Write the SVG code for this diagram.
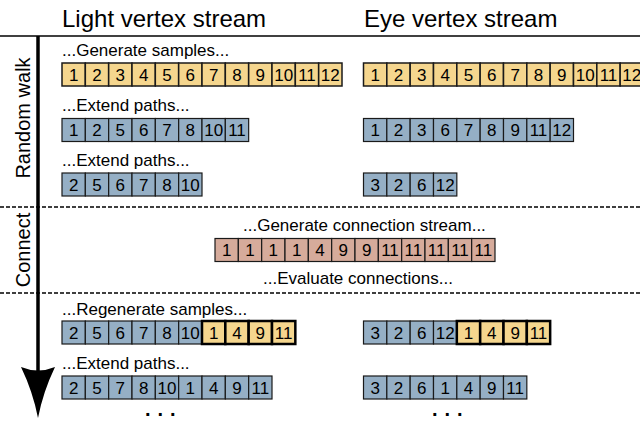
<svg xmlns="http://www.w3.org/2000/svg" width="640" height="421" viewBox="0 0 640 421">
<style>
text{font-family:"Liberation Sans",Arial,sans-serif;fill:#000}
.h{font-size:24px}
.lbl{font-size:17px}
.side{font-size:20px;text-anchor:middle}
.n{font-size:17px;text-anchor:middle}
.y{fill:#F5D68E;stroke:#1a1a1a;stroke-width:1.5}
.yt{fill:#F5D68E;stroke:#000;stroke-width:2.5}
.b{fill:#95AFC5;stroke:#1a1a1a;stroke-width:1.2}
.p{fill:#D6AB9B;stroke:#1a1a1a;stroke-width:1.2}
.dash{stroke:#000;stroke-width:1.5;stroke-dasharray:4 2;fill:none}
.dots{font-size:20px;font-weight:bold;letter-spacing:7px}
</style>
<rect width="640" height="421" fill="#fff"/>
<text class="h" x="62" y="27">Light vertex stream</text>
<text class="h" x="364" y="27">Eye vertex stream</text>
<text class="side" transform="translate(30,118) rotate(-90)">Random walk</text>
<text class="side" transform="translate(30,250) rotate(-90)">Connect</text>
<g id="connectors">
<line x1="0" y1="36" x2="640" y2="36" stroke="#000" stroke-width="1.5"/>
<line class="dash" x1="0" y1="207" x2="640" y2="207"/>
<line class="dash" x1="0" y1="293" x2="640" y2="293"/>
<line x1="38" y1="36" x2="38" y2="372" stroke="#000" stroke-width="3.5"/>
<path d="M21,367 Q38,374 55,367 Q43,392 38,418 Q33,392 21,367 Z" fill="#000"/>
</g>
<text class="lbl" x="62" y="56">...Generate samples...</text>
<text class="lbl" x="62" y="111">...Extend paths...</text>
<text class="lbl" x="62" y="166">...Extend paths...</text>
<text class="lbl" x="243" y="231">...Generate connection stream...</text>
<text class="lbl" x="263" y="284">...Evaluate connections...</text>
<text class="lbl" x="62" y="315">...Regenerate samples...</text>
<text class="lbl" x="62" y="369">...Extend paths...</text>
<g id="light-gen">
<rect class="y" x="62" y="63" width="23.33" height="23"/><text class="n" x="73.67" y="80.5">1</text>
<rect class="y" x="85.33" y="63" width="23.33" height="23"/><text class="n" x="97" y="80.5">2</text>
<rect class="y" x="108.67" y="63" width="23.33" height="23"/><text class="n" x="120.33" y="80.5">3</text>
<rect class="y" x="132" y="63" width="23.33" height="23"/><text class="n" x="143.67" y="80.5">4</text>
<rect class="y" x="155.33" y="63" width="23.33" height="23"/><text class="n" x="167" y="80.5">5</text>
<rect class="y" x="178.67" y="63" width="23.33" height="23"/><text class="n" x="190.33" y="80.5">6</text>
<rect class="y" x="202" y="63" width="23.33" height="23"/><text class="n" x="213.67" y="80.5">7</text>
<rect class="y" x="225.33" y="63" width="23.33" height="23"/><text class="n" x="237" y="80.5">8</text>
<rect class="y" x="248.67" y="63" width="23.33" height="23"/><text class="n" x="260.33" y="80.5">9</text>
<rect class="y" x="272" y="63" width="23.33" height="23"/><text class="n" x="283.67" y="80.5">10</text>
<rect class="y" x="295.33" y="63" width="23.33" height="23"/><text class="n" x="307" y="80.5">11</text>
<rect class="y" x="318.67" y="63" width="23.33" height="23"/><text class="n" x="330.33" y="80.5">12</text>
</g>
<g id="eye-gen">
<rect class="y" x="363.5" y="63" width="23.33" height="23"/><text class="n" x="375.17" y="80.5">1</text>
<rect class="y" x="386.83" y="63" width="23.33" height="23"/><text class="n" x="398.5" y="80.5">2</text>
<rect class="y" x="410.17" y="63" width="23.33" height="23"/><text class="n" x="421.83" y="80.5">3</text>
<rect class="y" x="433.5" y="63" width="23.33" height="23"/><text class="n" x="445.17" y="80.5">4</text>
<rect class="y" x="456.83" y="63" width="23.33" height="23"/><text class="n" x="468.5" y="80.5">5</text>
<rect class="y" x="480.17" y="63" width="23.33" height="23"/><text class="n" x="491.83" y="80.5">6</text>
<rect class="y" x="503.5" y="63" width="23.33" height="23"/><text class="n" x="515.17" y="80.5">7</text>
<rect class="y" x="526.83" y="63" width="23.33" height="23"/><text class="n" x="538.5" y="80.5">8</text>
<rect class="y" x="550.17" y="63" width="23.33" height="23"/><text class="n" x="561.83" y="80.5">9</text>
<rect class="y" x="573.5" y="63" width="23.33" height="23"/><text class="n" x="585.17" y="80.5">10</text>
<rect class="y" x="596.83" y="63" width="23.33" height="23"/><text class="n" x="608.5" y="80.5">11</text>
<rect class="y" x="620.17" y="63" width="23.33" height="23"/><text class="n" x="631.83" y="80.5">12</text>
</g>
<g id="light-ext1">
<rect class="b" x="62" y="118.5" width="23.33" height="23"/><text class="n" x="73.67" y="136">1</text>
<rect class="b" x="85.33" y="118.5" width="23.33" height="23"/><text class="n" x="97" y="136">2</text>
<rect class="b" x="108.67" y="118.5" width="23.33" height="23"/><text class="n" x="120.33" y="136">5</text>
<rect class="b" x="132" y="118.5" width="23.33" height="23"/><text class="n" x="143.67" y="136">6</text>
<rect class="b" x="155.33" y="118.5" width="23.33" height="23"/><text class="n" x="167" y="136">7</text>
<rect class="b" x="178.67" y="118.5" width="23.33" height="23"/><text class="n" x="190.33" y="136">8</text>
<rect class="b" x="202" y="118.5" width="23.33" height="23"/><text class="n" x="213.67" y="136">10</text>
<rect class="b" x="225.33" y="118.5" width="23.33" height="23"/><text class="n" x="237" y="136">11</text>
</g>
<g id="eye-ext1">
<rect class="b" x="363.5" y="118.5" width="23.33" height="23"/><text class="n" x="375.17" y="136">1</text>
<rect class="b" x="386.83" y="118.5" width="23.33" height="23"/><text class="n" x="398.5" y="136">2</text>
<rect class="b" x="410.17" y="118.5" width="23.33" height="23"/><text class="n" x="421.83" y="136">3</text>
<rect class="b" x="433.5" y="118.5" width="23.33" height="23"/><text class="n" x="445.17" y="136">6</text>
<rect class="b" x="456.83" y="118.5" width="23.33" height="23"/><text class="n" x="468.5" y="136">7</text>
<rect class="b" x="480.17" y="118.5" width="23.33" height="23"/><text class="n" x="491.83" y="136">8</text>
<rect class="b" x="503.5" y="118.5" width="23.33" height="23"/><text class="n" x="515.17" y="136">9</text>
<rect class="b" x="526.83" y="118.5" width="23.33" height="23"/><text class="n" x="538.5" y="136">11</text>
<rect class="b" x="550.17" y="118.5" width="23.33" height="23"/><text class="n" x="561.83" y="136">12</text>
</g>
<g id="light-ext2">
<rect class="b" x="62" y="173" width="23.33" height="23"/><text class="n" x="73.67" y="190.5">2</text>
<rect class="b" x="85.33" y="173" width="23.33" height="23"/><text class="n" x="97" y="190.5">5</text>
<rect class="b" x="108.67" y="173" width="23.33" height="23"/><text class="n" x="120.33" y="190.5">6</text>
<rect class="b" x="132" y="173" width="23.33" height="23"/><text class="n" x="143.67" y="190.5">7</text>
<rect class="b" x="155.33" y="173" width="23.33" height="23"/><text class="n" x="167" y="190.5">8</text>
<rect class="b" x="178.67" y="173" width="23.33" height="23"/><text class="n" x="190.33" y="190.5">10</text>
</g>
<g id="eye-ext2">
<rect class="b" x="363.5" y="173" width="23.33" height="23"/><text class="n" x="375.17" y="190.5">3</text>
<rect class="b" x="386.83" y="173" width="23.33" height="23"/><text class="n" x="398.5" y="190.5">2</text>
<rect class="b" x="410.17" y="173" width="23.33" height="23"/><text class="n" x="421.83" y="190.5">6</text>
<rect class="b" x="433.5" y="173" width="23.33" height="23"/><text class="n" x="445.17" y="190.5">12</text>
</g>
<g id="connections">
<rect class="p" x="215" y="238.5" width="23.33" height="23"/><text class="n" x="226.67" y="256">1</text>
<rect class="p" x="238.33" y="238.5" width="23.33" height="23"/><text class="n" x="250" y="256">1</text>
<rect class="p" x="261.67" y="238.5" width="23.33" height="23"/><text class="n" x="273.33" y="256">1</text>
<rect class="p" x="285" y="238.5" width="23.33" height="23"/><text class="n" x="296.67" y="256">1</text>
<rect class="p" x="308.33" y="238.5" width="23.33" height="23"/><text class="n" x="320" y="256">4</text>
<rect class="p" x="331.67" y="238.5" width="23.33" height="23"/><text class="n" x="343.33" y="256">9</text>
<rect class="p" x="355" y="238.5" width="23.33" height="23"/><text class="n" x="366.67" y="256">9</text>
<rect class="p" x="378.33" y="238.5" width="23.33" height="23"/><text class="n" x="390" y="256">11</text>
<rect class="p" x="401.67" y="238.5" width="23.33" height="23"/><text class="n" x="413.33" y="256">11</text>
<rect class="p" x="425" y="238.5" width="23.33" height="23"/><text class="n" x="436.67" y="256">11</text>
<rect class="p" x="448.33" y="238.5" width="23.33" height="23"/><text class="n" x="460" y="256">11</text>
<rect class="p" x="471.67" y="238.5" width="23.33" height="23"/><text class="n" x="483.33" y="256">11</text>
</g>
<g id="light-regen">
<rect class="b" x="62" y="321" width="23.33" height="23"/><text class="n" x="73.67" y="338.5">2</text>
<rect class="b" x="85.33" y="321" width="23.33" height="23"/><text class="n" x="97" y="338.5">5</text>
<rect class="b" x="108.67" y="321" width="23.33" height="23"/><text class="n" x="120.33" y="338.5">6</text>
<rect class="b" x="132" y="321" width="23.33" height="23"/><text class="n" x="143.67" y="338.5">7</text>
<rect class="b" x="155.33" y="321" width="23.33" height="23"/><text class="n" x="167" y="338.5">8</text>
<rect class="b" x="178.67" y="321" width="23.33" height="23"/><text class="n" x="190.33" y="338.5">10</text>
<rect class="yt" x="202" y="321" width="23.33" height="23"/><text class="n" x="213.67" y="338.5">1</text>
<rect class="yt" x="225.33" y="321" width="23.33" height="23"/><text class="n" x="237" y="338.5">4</text>
<rect class="yt" x="248.67" y="321" width="23.33" height="23"/><text class="n" x="260.33" y="338.5">9</text>
<rect class="yt" x="272" y="321" width="23.33" height="23"/><text class="n" x="283.67" y="338.5">11</text>
</g>
<g id="eye-regen">
<rect class="b" x="363.5" y="321" width="23.33" height="23"/><text class="n" x="375.17" y="338.5">3</text>
<rect class="b" x="386.83" y="321" width="23.33" height="23"/><text class="n" x="398.5" y="338.5">2</text>
<rect class="b" x="410.17" y="321" width="23.33" height="23"/><text class="n" x="421.83" y="338.5">6</text>
<rect class="b" x="433.5" y="321" width="23.33" height="23"/><text class="n" x="445.17" y="338.5">12</text>
<rect class="yt" x="456.83" y="321" width="23.33" height="23"/><text class="n" x="468.5" y="338.5">1</text>
<rect class="yt" x="480.17" y="321" width="23.33" height="23"/><text class="n" x="491.83" y="338.5">4</text>
<rect class="yt" x="503.5" y="321" width="23.33" height="23"/><text class="n" x="515.17" y="338.5">9</text>
<rect class="yt" x="526.83" y="321" width="23.33" height="23"/><text class="n" x="538.5" y="338.5">11</text>
</g>
<g id="light-ext3">
<rect class="b" x="62" y="376" width="23.33" height="23"/><text class="n" x="73.67" y="393.5">2</text>
<rect class="b" x="85.33" y="376" width="23.33" height="23"/><text class="n" x="97" y="393.5">5</text>
<rect class="b" x="108.67" y="376" width="23.33" height="23"/><text class="n" x="120.33" y="393.5">7</text>
<rect class="b" x="132" y="376" width="23.33" height="23"/><text class="n" x="143.67" y="393.5">8</text>
<rect class="b" x="155.33" y="376" width="23.33" height="23"/><text class="n" x="167" y="393.5">10</text>
<rect class="b" x="178.67" y="376" width="23.33" height="23"/><text class="n" x="190.33" y="393.5">1</text>
<rect class="b" x="202" y="376" width="23.33" height="23"/><text class="n" x="213.67" y="393.5">4</text>
<rect class="b" x="225.33" y="376" width="23.33" height="23"/><text class="n" x="237" y="393.5">9</text>
<rect class="b" x="248.67" y="376" width="23.33" height="23"/><text class="n" x="260.33" y="393.5">11</text>
</g>
<g id="eye-ext3">
<rect class="b" x="363.5" y="376" width="23.33" height="23"/><text class="n" x="375.17" y="393.5">3</text>
<rect class="b" x="386.83" y="376" width="23.33" height="23"/><text class="n" x="398.5" y="393.5">2</text>
<rect class="b" x="410.17" y="376" width="23.33" height="23"/><text class="n" x="421.83" y="393.5">6</text>
<rect class="b" x="433.5" y="376" width="23.33" height="23"/><text class="n" x="445.17" y="393.5">1</text>
<rect class="b" x="456.83" y="376" width="23.33" height="23"/><text class="n" x="468.5" y="393.5">4</text>
<rect class="b" x="480.17" y="376" width="23.33" height="23"/><text class="n" x="491.83" y="393.5">9</text>
<rect class="b" x="503.5" y="376" width="23.33" height="23"/><text class="n" x="515.17" y="393.5">11</text>
</g>
<text class="dots" x="145" y="416">...</text>
<text class="dots" x="432" y="416">...</text>
</svg>
